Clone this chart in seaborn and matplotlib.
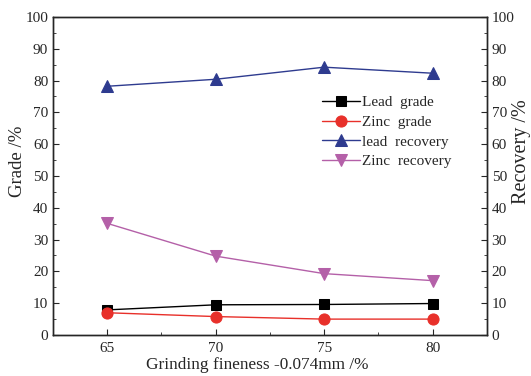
import seaborn as sns
import pandas as pd
import matplotlib.pyplot as plt
from matplotlib.ticker import MultipleLocator

fineness = [65, 70, 75, 80]
lead_grade = [7.9, 9.5, 9.6, 9.9]
zinc_grade = [7.0, 5.8, 5.0, 5.0]
lead_recovery = [78.2, 80.4, 84.2, 82.3]
zinc_recovery = [35.1, 24.8, 19.3, 17.1]

sns.set_style('ticks')
plt.rcParams['font.family'] = ['Liberation Serif', 'DejaVu Serif']

df = pd.DataFrame({'fineness': fineness, 'lead_grade': lead_grade, 'zinc_grade': zinc_grade,
                   'lead_recovery': lead_recovery, 'zinc_recovery': zinc_recovery})

fig = plt.figure(figsize=(5.31, 3.76), dpi=100)
ax = fig.add_axes([0.0998, 0.109, 0.817, 0.846])
ax2 = ax.twinx()

sns.lineplot(x='fineness', y='lead_grade', data=df, ax=ax, color='black', marker='s',
             markersize=7, markeredgecolor='black', linewidth=1, label='Lead  grade', legend=False)
sns.lineplot(x='fineness', y='zinc_grade', data=df, ax=ax, color='#e8302a', marker='o',
             markersize=8, markeredgecolor='#e8302a', linewidth=1, label='Zinc  grade', legend=False)
sns.lineplot(x='fineness', y='lead_recovery', data=df, ax=ax2, color='#2e3b8f', marker='^',
             markersize=8, markeredgecolor='#2e3b8f', linewidth=1, label='lead  recovery', legend=False)
sns.lineplot(x='fineness', y='zinc_recovery', data=df, ax=ax2, color='#b460a8', marker='v',
             markersize=8, markeredgecolor='#b460a8', linewidth=1, label='Zinc  recovery', legend=False)

for a in (ax, ax2):
    a.set_xlim(62.5, 82.5)
    a.set_ylim(0, 100)
    a.yaxis.set_major_locator(MultipleLocator(10))
    a.yaxis.set_minor_locator(MultipleLocator(5))
    a.tick_params(which='both', direction='in', labelsize=11)
    a.tick_params(which='major', length=4)
    a.tick_params(which='minor', length=2)
    for s in a.spines.values():
        s.set_linewidth(1)

ax.set_xticks(fineness)
ax.xaxis.set_minor_locator(MultipleLocator(2.5))
ax.tick_params(axis='x', pad=5)
ax.set_xlabel('Grinding fineness -0.074mm /%', fontsize=12.4)
ax.set_ylabel('Grade /%', fontsize=13.5)
ax2.set_ylabel('Recovery /%', fontsize=14.5)
ax.xaxis.set_label_coords(0.47, -0.068)
ax.yaxis.set_label_coords(-0.062, 0.547)
ax2.yaxis.set_label_coords(1.058, 0.575)

h1, l1 = ax.get_legend_handles_labels()
h2, l2 = ax2.get_legend_handles_labels()
ax2.legend(h1 + h2, l1 + l2, loc='upper left', bbox_to_anchor=(0.606, 0.772), frameon=False,
           fontsize=11, handlelength=2.5, handletextpad=0.15, labelspacing=0.39, borderaxespad=0)

fig.savefig('out.png', dpi=100)
